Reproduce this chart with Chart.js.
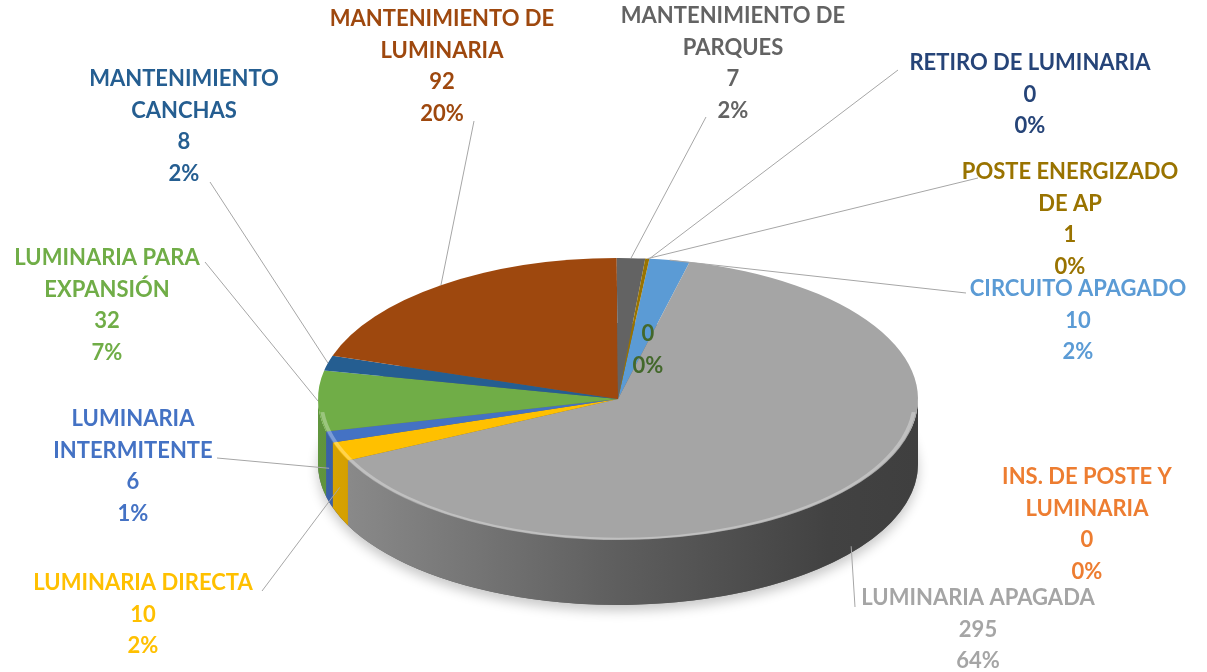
<!DOCTYPE html>
<html>
<head>
<meta charset="utf-8">
<script src="https://cdn.jsdelivr.net/npm/chart.js@4.4.1/dist/chart.umd.min.js"></script>
<style>
  html, body { margin: 0; padding: 0; background: #fff; }
  canvas { display: block; }
</style>
</head>
<body>
<canvas id="pieChart" width="1207" height="672"></canvas>
<script>
// ===============================
// DATA
// ===============================
// category names, split into lines the way the labels wrap
const categories = [
  ["CIRCUITO APAGADO"],
  ["INS. DE POSTE Y", "LUMINARIA"],
  ["LUMINARIA APAGADA"],
  ["LUMINARIA DIRECTA"],
  ["LUMINARIA", "INTERMITENTE"],
  ["LUMINARIA PARA", "EXPANSIÓN"],
  ["MANTENIMIENTO", "CANCHAS"],
  ["MANTENIMIENTO DE", "LUMINARIA"],
  ["MANTENIMIENTO DE", "PARQUES"],
  ["POSTE ENERGIZADO", "DE AP"],
  ["RETIRO DE LUMINARIA"],
  []
];
const counts = [10, 0, 295, 10, 6, 32, 8, 92, 7, 1, 0, 0];

const sliceColors = [
  "#5B9BD5", "#ED7D31", "#A5A5A5", "#FFC000", "#4472C4", "#70AD47",
  "#255E91", "#9E480E", "#636363", "#997300", "#264478", "#43682B"
];

// label block centre x / first line y, leader start, and how far down the side the leader ends
const labelLayout = [
  { x: 1078, y: 289, from: [966, 293], side: 0 },
  { x: 1087, y: 477, from: null },
  { x: 978, y: 598, from: [855, 607], side: 0.9 },
  { x: 143, y: 583, from: [262, 591], side: 0.55 },
  { x: 133, y: 419, from: [217, 458], side: 0.48 },
  { x: 107, y: 258, from: [205, 262], side: 0 },
  { x: 184, y: 79, from: [210, 182], side: 0 },
  { x: 442, y: 19, from: [474, 121], side: 0 },
  { x: 733, y: 16, from: [706, 117], side: 0 },
  { x: 1070, y: 172, from: [978, 178], side: 0 },
  { x: 1030, y: 63, from: [898, 70], side: 0 },
  { x: 648, y: 334, from: null }
];

const LINE_H = 31.5;
const SQUASH = 0.47;   // vertical tilt of the pie
const CENTER_Y = 399;  // screen y of the pie centre
const DEPTH = 65;      // thickness of the 3d side

// ===============================
// HELPERS
// ===============================
function shade(hex, f) {
  const n = parseInt(hex.slice(1), 16);
  const r = Math.round(((n >> 16) & 255) * f);
  const g = Math.round(((n >> 8) & 255) * f);
  const b = Math.round((n & 255) * f);
  return `rgb(${r},${g},${b})`;
}

// parts of an arc that face the viewer (bottom half)
function frontRanges(s, e) {
  const out = [];
  for (let k = -1; k <= 1; k++) {
    const lo = Math.max(s, 2 * Math.PI * k);
    const hi = Math.min(e, 2 * Math.PI * k + Math.PI);
    if (hi > lo) out.push([lo, hi]);
  }
  return out;
}

// ===============================
// 3D PIE PLUGIN
// ===============================
const pie3d = {
  id: "pie3d",
  beforeDatasetsDraw(chart) {
    const ctx = chart.ctx;
    const arcs = chart.getDatasetMeta(0).data;
    const cx = arcs[0].x, cy = arcs[0].y, r = arcs[0].outerRadius;
    const d = DEPTH / SQUASH;

    ctx.save();
    ctx.translate(0, CENTER_Y - cy * SQUASH);
    ctx.scale(1, SQUASH);

    // soft shadow under the base
    ctx.save();
    ctx.shadowColor = "rgba(0,0,0,0.22)";
    ctx.shadowBlur = 12;
    ctx.shadowOffsetY = 6;
    ctx.beginPath();
    ctx.arc(cx, cy + d, r, 0, Math.PI * 2);
    ctx.fillStyle = "#666";
    ctx.fill();
    ctx.restore();

    // side walls
    arcs.forEach((arc, i) => {
      frontRanges(arc.startAngle, arc.endAngle).forEach(([a0, a1]) => {
        const g = ctx.createLinearGradient(cx - r, 0, cx + r, 0);
        g.addColorStop(0, shade(sliceColors[i], 0.86));
        g.addColorStop(0.5, shade(sliceColors[i], 0.57));
        g.addColorStop(0.85, shade(sliceColors[i], 0.4));
        g.addColorStop(1, shade(sliceColors[i], 0.38));
        ctx.beginPath();
        ctx.arc(cx, cy, r, a0, a1);
        ctx.arc(cx, cy + d, r, a1, a0, true);
        ctx.closePath();
        ctx.fillStyle = g;
        ctx.fill();
      });
    });
  },
  afterDatasetsDraw(chart) {
    const ctx = chart.ctx;
    const arc = chart.getDatasetMeta(0).data[0];
    // light bevel along the front rim
    ctx.beginPath();
    ctx.arc(arc.x, arc.y, arc.outerRadius - 3, 0.03 * Math.PI, 0.97 * Math.PI);
    ctx.strokeStyle = "rgba(255,255,255,0.3)";
    ctx.lineWidth = 4;
    ctx.stroke();
    ctx.restore();
  }
};

// ===============================
// LABELS PLUGIN
// ===============================
const pieLabels = {
  id: "pieLabels",
  afterDraw(chart) {
    const ctx = chart.ctx;
    const arcs = chart.getDatasetMeta(0).data;
    const total = counts.reduce((a, b) => a + b, 0);

    ctx.save();
    ctx.font = "bold 22px Lato";
    ctx.textAlign = "center";
    ctx.textBaseline = "middle";

    arcs.forEach((arc, i) => {
      const L = labelLayout[i];
      if (L.from) {
        const mid = (arc.startAngle + arc.endAngle) / 2;
        const ex = arc.x + arc.outerRadius * Math.cos(mid);
        const ey = CENTER_Y + arc.outerRadius * SQUASH * Math.sin(mid) + L.side * DEPTH;
        ctx.beginPath();
        ctx.moveTo(L.from[0], L.from[1]);
        ctx.lineTo(ex, ey);
        ctx.strokeStyle = "#a6a6a6";
        ctx.lineWidth = 1;
        ctx.stroke();
      }
      const lines = [...categories[i], String(counts[i]), Math.round(counts[i] / total * 100) + "%"];
      ctx.fillStyle = sliceColors[i];
      lines.forEach((t, j) => ctx.fillText(t, L.x, L.y + j * LINE_H));
    });
    ctx.restore();
  }
};

// ===============================
// CHART
// ===============================
new Chart(document.getElementById("pieChart"), {
  type: "pie",
  data: {
    labels: categories,
    datasets: [{
      data: counts,
      backgroundColor: sliceColors,
      borderWidth: 0,
      hoverOffset: 0,
      clip: false
    }]
  },
  options: {
    responsive: false,
    animation: false,
    rotation: 6,
    layout: { padding: { left: 318, right: 289, top: 36, bottom: 36 } },
    plugins: {
      legend: { display: false },
      tooltip: { enabled: false }
    }
  },
  plugins: [pie3d, pieLabels]
});
</script>
</body>
</html>
